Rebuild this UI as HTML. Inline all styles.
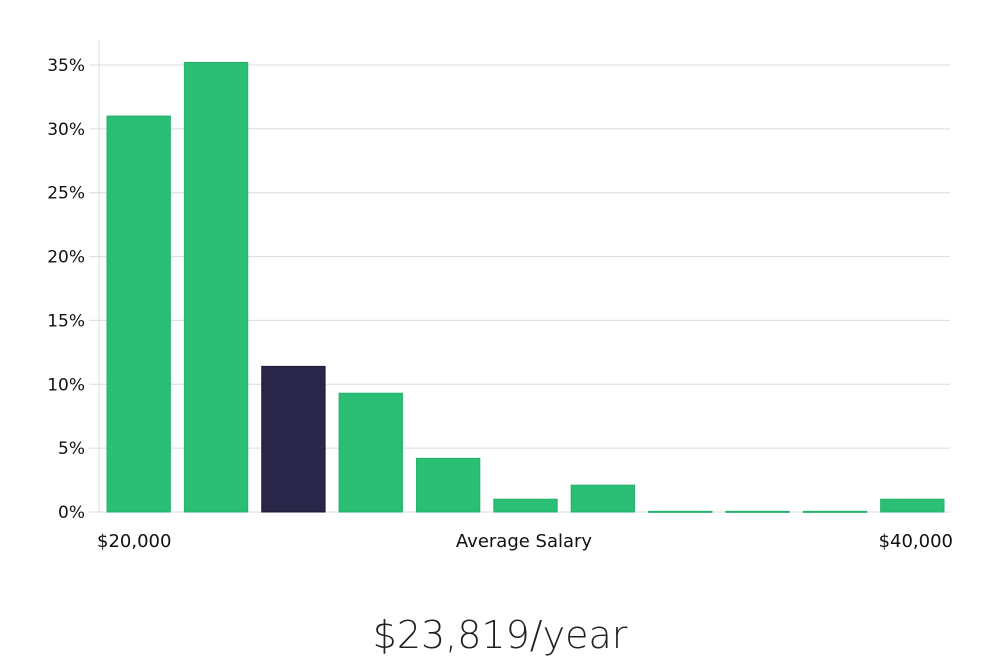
<!DOCTYPE html>
<html><head><meta charset="utf-8"><style>
body{margin:0;background:#fff;width:1000px;height:660px;overflow:hidden}
svg text{font-family:"DejaVu Sans","Liberation Sans",sans-serif}
</style></head><body>
<svg id="chart" width="1000" height="660" xmlns="http://www.w3.org/2000/svg"></svg>
<script>
const categories=["b1","b2","b3","b4","b5","b6","b7","b8","b9","b10","b11"];
const values=[31.0,35.2,11.4,9.3,4.2,1.0,2.1,0.05,0.05,0.05,1.0];
const highlight=[false,false,true,false,false,false,false,false,false,false,false];
const yTicks=[0,5,10,15,20,25,30,35];
const yTickLabels=["0%","5%","10%","15%","20%","25%","30%","35%"];
const xLabels=["$20,000","Average Salary","$40,000"];
const NS="http://www.w3.org/2000/svg";
const svg=document.getElementById('chart');
const L=99,R=950,B=512,T=40;
const y=v=>B-v*(B-65)/35;
const step=(R-L)/categories.length;
const x=i=>L+i*step;
function mk(t,a){const e=document.createElementNS(NS,t);for(const k in a)e.setAttribute(k,a[k]);svg.appendChild(e);return e;}
yTicks.forEach((t,i)=>{
 const g=mk('line',{x1:L-10,x2:R,y1:y(t),y2:y(t),stroke:'#dcdcdc','stroke-width':1});
 
 
 const tx=mk('text',{x:85,y:y(t)+6,'text-anchor':'end','font-size':17,fill:'#111'});
 tx.textContent=yTickLabels[i];
 
 
});
const ax=mk('line',{x1:L,x2:L,y1:T,y2:B,stroke:'#dcdcdc','stroke-width':1});


values.forEach((v,i)=>{
 const top=y(v);
 const r=mk('rect',{x:x(i)+8,y:top,width:step-14,height:Math.max(B-top,1),fill:highlight[i]?'#2a2649':'#2bbf76',stroke:highlight[i]?'#1d1a3a':'#25b06b','stroke-width':1});
 
 
});
[[97,'start'],[524,'middle'],[953,'end']].forEach((p,i)=>{
 const t=mk('text',{x:p[0],y:547,'text-anchor':p[1],'font-size':18,fill:'#111'});
 t.textContent=xLabels[i];
 
 
});
const ttl=mk('text',{x:500,y:648,'text-anchor':'middle','font-size':38,fill:'#222','font-weight':300});
ttl.textContent="$23,819/year";


</script>
</body></html>
